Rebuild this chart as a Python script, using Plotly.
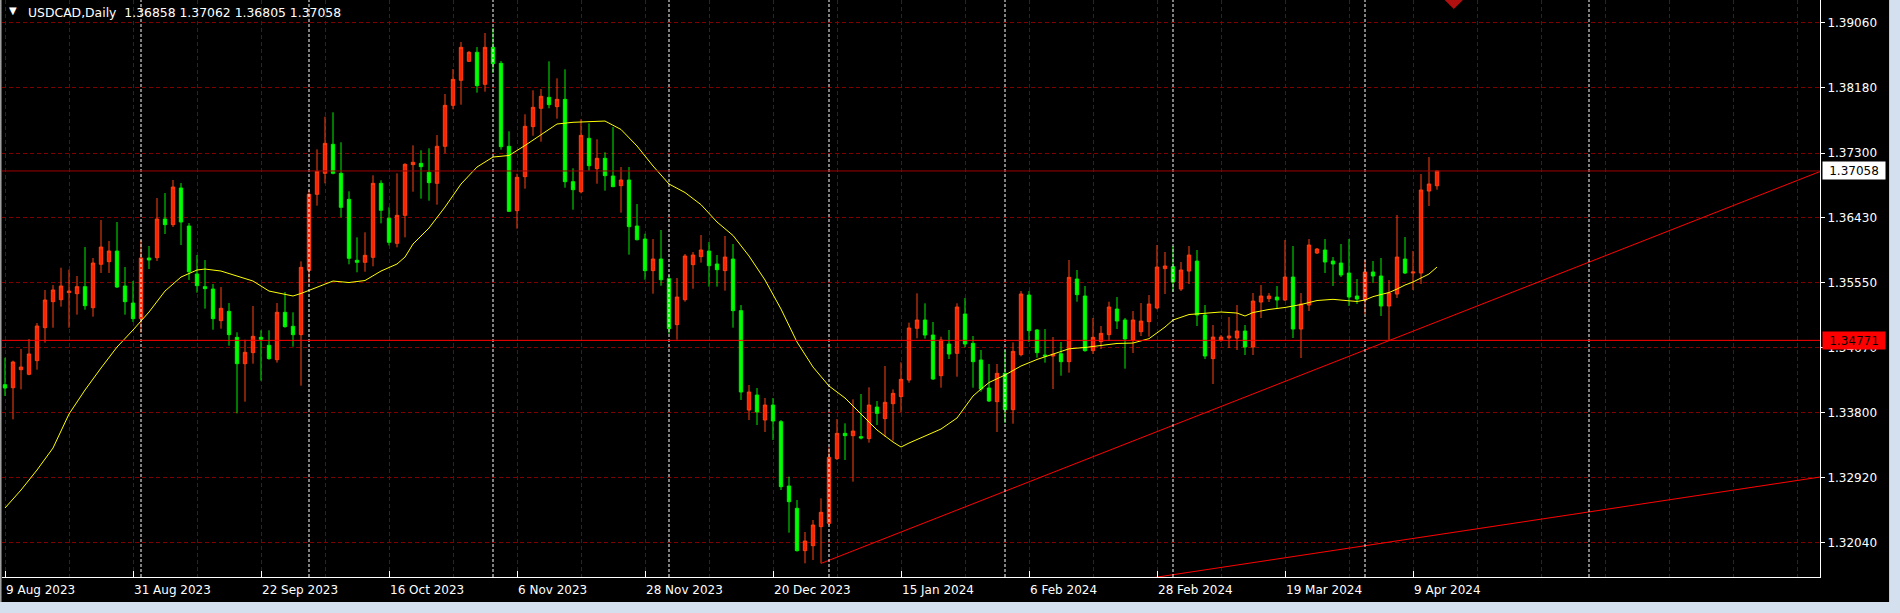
import plotly.graph_objects as go

# ---------------- data ----------------
open_ = [1.34173,1.34132,1.34375,1.34313,1.34497,1.34942,1.35293,1.35320,1.35415,1.35401,
 1.35496,1.35212,1.35798,1.35833,1.35977,1.35505,1.35275,1.35064,1.35883,1.35887,
 1.36409,1.36333,1.36828,1.36315,1.35667,1.35496,1.35464,1.35037,1.35163,1.34812,
 1.34456,1.34605,1.34812,1.34704,1.34510,1.35150,1.34961,1.34848,1.35717,1.36743,
 1.37026,1.37418,1.37026,1.36675,1.35852,1.35825,1.35892,1.36891,1.36419,1.36081,
 1.36459,1.37143,1.37161,1.37040,1.36891,1.37391,1.37944,1.38282,1.38538,1.38660,
 1.38228,1.38727,1.38511,1.37391,1.36522,1.36981,1.37656,1.37904,1.38052,1.37926,
 1.38025,1.36913,1.36778,1.37499,1.37089,1.37229,1.36990,1.36859,1.36936,1.36315,
 1.36139,1.35712,1.35869,1.35604,1.34983,1.35320,1.35793,1.35901,1.35977,1.35802,
 1.35712,1.35869,1.35172,1.33831,1.34033,1.33696,1.33898,1.33673,1.32805,1.32504,
 1.31932,1.31999,1.32256,1.32301,1.33174,1.33516,1.33484,1.33471,1.33444,1.33871,
 1.33714,1.33916,1.34011,1.34236,1.34934,1.35046,1.34843,1.34294,1.34722,1.34596,
 1.35127,1.34731,1.34506,1.34128,1.33943,1.34326,1.33835,1.34578,1.35383,1.34911,
 1.34573,1.34560,1.34591,1.34483,1.35599,1.35370,1.34632,1.34753,1.34848,1.35194,
 1.35046,1.34776,1.34888,1.35023,1.35208,1.35739,1.35766,1.35464,1.35707,1.35842,
 1.35113,1.34524,1.34776,1.34803,1.34803,1.34897,1.34681,1.35289,1.35334,1.35356,
 1.35316,1.35626,1.34924,1.35248,1.35950,1.35991,1.35842,1.35815,1.35680,1.35370,
 1.35316,1.35694,1.35640,1.35235,1.35397,1.35869,1.35680,1.35680,1.36787,1.36858]

high = [1.34537,1.34497,1.34654,1.34789,1.35005,1.35451,1.35518,1.35752,1.35725,1.35640,
 1.36031,1.35883,1.36396,1.36112,1.36369,1.35761,1.35572,1.36126,1.36045,1.36693,
 1.36760,1.36936,1.36895,1.36355,1.35923,1.35856,1.35532,1.35491,1.35275,1.34880,
 1.34780,1.35235,1.34907,1.34907,1.35275,1.35424,1.35150,1.35838,1.36797,1.37350,
 1.37791,1.37850,1.37445,1.36783,1.36162,1.36230,1.36999,1.36932,1.36567,1.37026,
 1.37161,1.37404,1.37337,1.37364,1.37543,1.38097,1.38434,1.38799,1.38677,1.38731,
 1.38920,1.38988,1.38542,1.37593,1.37021,1.37823,1.38147,1.38164,1.38538,1.38309,
 1.38430,1.37094,1.37755,1.37701,1.37485,1.37310,1.37651,1.37111,1.37111,1.36612,
 1.36211,1.36139,1.36261,1.35649,1.35613,1.35937,1.35964,1.36193,1.36099,1.35923,
 1.36180,1.36072,1.35248,1.34168,1.34128,1.33993,1.33993,1.33696,1.32931,1.32616,
 1.32184,1.32346,1.32639,1.33327,1.33709,1.33651,1.33975,1.34047,1.34137,1.33952,
 1.34425,1.34110,1.34475,1.35010,1.35406,1.35271,1.35019,1.34821,1.34911,1.35271,
 1.35343,1.34830,1.34641,1.34452,1.34452,1.34641,1.34745,1.35437,1.35437,1.34924,
 1.34924,1.34816,1.34749,1.35856,1.35721,1.35505,1.35073,1.34965,1.35293,1.35356,
 1.35073,1.35167,1.35275,1.35383,1.36058,1.35964,1.36045,1.35829,1.36045,1.35991,
 1.35248,1.34978,1.34843,1.35086,1.35248,1.34978,1.35410,1.35518,1.35410,1.35505,
 1.36126,1.36045,1.35410,1.36139,1.36018,1.36139,1.35896,1.36072,1.36139,1.35599,
 1.35856,1.35842,1.35883,1.35586,1.36463,1.36166,1.35977,1.37017,1.37246,1.37062]

low = [1.34020,1.33705,1.34110,1.34300,1.34375,1.34740,1.34942,1.35226,1.34942,1.35118,
 1.35185,1.35091,1.35680,1.35680,1.35478,1.35118,1.35019,1.34875,1.35734,1.35842,
 1.36207,1.36301,1.36058,1.35586,1.35415,1.35199,1.34915,1.34929,1.34699,1.33786,
 1.33943,1.34456,1.34227,1.34510,1.34470,1.34942,1.34686,1.34159,1.35541,1.36589,
 1.36891,1.37013,1.36432,1.35798,1.35690,1.35698,1.35771,1.36351,1.36054,1.36027,
 1.36162,1.36778,1.36684,1.36657,1.36603,1.37296,1.37890,1.37953,1.38530,1.38115,
 1.38128,1.38380,1.37345,1.36504,1.36279,1.36819,1.37534,1.37453,1.37904,1.37764,
 1.36832,1.36535,1.36756,1.37062,1.36886,1.36792,1.36840,1.36495,1.35928,1.36120,
 1.35590,1.35401,1.35509,1.34861,1.34780,1.35293,1.35469,1.35820,1.35496,1.35496,
 1.35442,1.34942,1.33966,1.33696,1.33628,1.33534,1.33426,1.32751,1.32175,1.31920,
 1.31761,1.31806,1.31761,1.32278,1.33156,1.33156,1.32863,1.33435,1.33390,1.33628,
 1.33471,1.33417,1.33804,1.34200,1.34799,1.34794,1.34236,1.34132,1.34519,1.34281,
 1.34677,1.34132,1.34078,1.33939,1.33534,1.33655,1.33646,1.34556,1.34749,1.34537,
 1.34470,1.34114,1.34294,1.34335,1.35293,1.34618,1.34587,1.34654,1.34762,1.34924,
 1.34389,1.34600,1.34830,1.34821,1.35190,1.35397,1.35424,1.35437,1.35532,1.34965,
 1.34519,1.34182,1.34753,1.34668,1.34641,1.34573,1.34573,1.35073,1.35289,1.35194,
 1.35302,1.34803,1.34533,1.35167,1.35937,1.35680,1.35505,1.35626,1.35235,1.35262,
 1.35127,1.35545,1.35100,1.34762,1.35343,1.35667,1.35451,1.35532,1.36585,1.36805]

close = [1.34128,1.34479,1.34411,1.34587,1.34965,1.35316,1.35451,1.35505,1.35437,1.35496,
 1.35239,1.35815,1.36031,1.35977,1.35491,1.35293,1.35064,1.35883,1.35856,1.36409,
 1.36333,1.36841,1.36369,1.35698,1.35509,1.35469,1.35064,1.35204,1.34848,1.34456,
 1.34610,1.34826,1.34785,1.34524,1.35150,1.34956,1.34848,1.35757,1.36743,1.37053,
 1.37431,1.37026,1.36567,1.35879,1.35825,1.35919,1.36891,1.36527,1.36095,1.36459,
 1.37148,1.37175,1.37116,1.36900,1.37391,1.37944,1.38295,1.38727,1.38660,1.38209,
 1.38727,1.38506,1.37386,1.36513,1.36972,1.37661,1.37917,1.38066,1.37953,1.38025,
 1.36913,1.36805,1.37539,1.37129,1.37229,1.36994,1.36846,1.36936,1.36306,1.36130,
 1.35712,1.35869,1.35590,1.34929,1.35356,1.35910,1.35923,1.35991,1.35779,1.35725,
 1.35896,1.35172,1.34074,1.34074,1.33804,1.33898,1.33682,1.32796,1.32593,1.31932,
 1.32062,1.32278,1.32450,1.33192,1.33516,1.33484,1.33547,1.33453,1.33898,1.33786,
 1.33935,1.34056,1.34245,1.34938,1.35046,1.34843,1.34249,1.34776,1.34587,1.35221,
 1.34722,1.34483,1.34114,1.33952,1.34326,1.33835,1.34623,1.35397,1.34902,1.34605,
 1.34560,1.34583,1.34483,1.35622,1.35388,1.34632,1.34812,1.34866,1.35221,1.35032,
 1.34789,1.35046,1.35032,1.35262,1.35761,1.35775,1.35559,1.35721,1.35923,1.35113,
 1.34560,1.34816,1.34816,1.34830,1.34897,1.34681,1.35302,1.35370,1.35370,1.35316,
 1.35626,1.34924,1.35262,1.36058,1.36004,1.35829,1.35802,1.35653,1.35356,1.35329,
 1.35694,1.35640,1.35235,1.35410,1.35896,1.35680,1.35694,1.36801,1.36882,1.37058]

# moving average (yellow) read at sample bars
ma_idx = [0,2,4,6,8,10,12,14,16,18,20,22,24,25,27,29,31,33,35,36,37,39,41,43,45,47,49,50,51,53,55,57,59,
          61,63,65,67,69,71,73,75,77,79,81,83,85,87,89,91,93,95,97,99,101,103,105,107,109,111,112,113,
          115,117,119,121,122,123,125,127,129,131,133,135,137,139,141,143,145,146,148,150,152,154,155,
          156,158,160,162,164,166,168,169,170,171,172,173,174,175,176,177,178,179]
ma_val = [1.32508,1.32751,1.33021,1.33318,1.33777,1.34101,1.34398,1.34681,1.34911,1.35154,1.35437,1.35626,
          1.35721,1.35734,1.35707,1.35640,1.35572,1.35437,1.35390,1.35370,1.35404,1.35491,1.35572,1.35552,
          1.35579,1.35707,1.35802,1.35896,1.36072,1.36288,1.36571,1.36882,1.37111,1.37246,1.37267,1.37402,
          1.37550,1.37692,1.37715,1.37728,1.37732,1.37618,1.37395,1.37125,1.36882,1.36767,1.36603,1.36369,
          1.36187,1.35910,1.35586,1.35194,1.34749,1.34411,1.34155,1.33993,1.33777,1.33561,1.33399,1.33331,
          1.33385,1.33480,1.33574,1.33723,1.34020,1.34114,1.34202,1.34303,1.34425,1.34513,1.34580,1.34657,
          1.34675,1.34702,1.34729,1.34735,1.34794,1.34951,1.35046,1.35120,1.35140,1.35154,1.35140,1.35100,
          1.35147,1.35188,1.35215,1.35255,1.35309,1.35325,1.35305,1.35296,1.35316,1.35361,1.35390,1.35417,
          1.35464,1.35518,1.35559,1.35613,1.35667,1.35761]

tick_idx = [0,16,32,48,64,80,96,112,128,144,160,176]
tick_labels = ['9 Aug 2023','31 Aug 2023','22 Sep 2023','16 Oct 2023','6 Nov 2023','28 Nov 2023',
               '20 Dec 2023','15 Jan 2024','6 Feb 2024','28 Feb 2024','19 Mar 2024','9 Apr 2024']
grid_idx = list(range(0, 227, 8))
month_sep_idx = [17, 38, 61, 83, 103, 125, 146, 170, 198]
price_ticks = [1.39060,1.38180,1.37300,1.36430,1.35550,1.34670,1.33800,1.32920,1.32040]

trend1 = ([102, 170], [1.31760, 1.34641])
trend2 = ([140, 220], [1.31510, 1.32814])
bid_price = 1.37058
level_price = 1.34771
arrow_mark = (181.1, 1.39366)
title_ohlc = [1.36858, 1.37062, 1.36805, 1.37058]

# ---------------- figure ----------------
X0, X1 = -0.375, 226.875
Y0, Y1 = 1.315765, 1.39366
FONT = 'DejaVu Sans'
GRID = '#800000'

def extend(tl, xend):
    (xa, xb), (ya, yb) = tl
    s = (yb - ya) / (xb - xa)
    return [xa, xend], [ya, ya + s * (xend - xa)]

fig = go.Figure()
fig.add_trace(go.Candlestick(
    x=list(range(len(open_))), open=open_, high=high, low=low, close=close,
    increasing=dict(line=dict(color='#FF4010', width=1), fillcolor='#FF2200'),
    decreasing=dict(line=dict(color='#00F000', width=1), fillcolor='#00FF00'),
    whiskerwidth=0, showlegend=False, hoverinfo='skip'))
fig.add_trace(go.Scatter(x=ma_idx, y=ma_val, mode='lines',
                         line=dict(color='#FFFF00', width=1), showlegend=False, hoverinfo='skip'))
for tl in (trend1, trend2):
    tx, ty = extend(tl, X1)
    fig.add_trace(go.Scatter(x=tx, y=ty, mode='lines', line=dict(color='#FF0000', width=1),
                             showlegend=False, hoverinfo='skip'))
fig.add_trace(go.Scatter(x=[arrow_mark[0]], y=[arrow_mark[1]], mode='markers',
                         marker=dict(symbol='diamond', size=14, color='#B01010'),
                         cliponaxis=True, showlegend=False, hoverinfo='skip'))

shapes = []
for s in month_sep_idx:
    shapes.append(dict(type='line', xref='x', yref='paper', x0=s, x1=s, y0=0, y1=1,
                       line=dict(color='white', width=1, dash='3px,2px'), layer='above'))
shapes.append(dict(type='line', xref='paper', yref='y', x0=0, x1=1, y0=bid_price, y1=bid_price,
                   line=dict(color='#A00000', width=1), layer='above'))
shapes.append(dict(type='line', xref='paper', yref='y', x0=0, x1=1, y0=level_price, y1=level_price,
                   line=dict(color='#FF0000', width=1), layer='above'))
# window frame strips (light blue) at right and bottom
shapes.append(dict(type='rect', xref='paper', yref='paper', x0=1.0380, x1=1.05, y0=-0.07, y1=1.01,
                   fillcolor='#D4E0EE', line=dict(width=0), layer='above'))
shapes.append(dict(type='rect', xref='paper', yref='paper', x0=-0.01, x1=1.05, y0=-0.07, y1=-0.0433,
                   fillcolor='#D4E0EE', line=dict(width=0), layer='above'))
shapes.append(dict(type='line', xref='paper', yref='paper', x0=-0.0008, x1=-0.0008, y0=-0.0433, y1=1.01,
                   line=dict(color='#A0A0A0', width=2), layer='above'))

annotations = [
    dict(xref='paper', yref='y', x=1, y=bid_price, xanchor='left', yanchor='middle', xshift=1.5,
         text=f'{bid_price:.5f}', showarrow=False, bgcolor='white', width=60, height=15, borderpad=1,
         font=dict(family=FONT, size=12, color='black')),
    dict(xref='paper', yref='y', x=1, y=level_price, xanchor='left', yanchor='middle', xshift=1.5,
         text=f'{level_price:.5f}', showarrow=False, bgcolor='#FF0000', width=60, height=15, borderpad=1,
         font=dict(family=FONT, size=12, color='black')),
    dict(xref='paper', yref='paper', x=0, y=1, xanchor='left', yanchor='top', xshift=24, yshift=-3,
         text='USDCAD,Daily\u00a0\u00a0' + ' '.join(f'{v:.5f}' for v in title_ohlc),
         showarrow=False, font=dict(family=FONT, size=12.4, color='white')),
    dict(xref='paper', yref='paper', x=0, y=1, xanchor='left', yanchor='top', xshift=5, yshift=-3,
         text='\u25BC', showarrow=False, font=dict(family=FONT, size=10, color='white')),
]

fig.update_layout(
    width=1900, height=613,
    margin=dict(l=2, r=80, t=0, b=36, pad=0),
    paper_bgcolor='black', plot_bgcolor='black',
    boxgap=0.4, showlegend=False,
    shapes=shapes, annotations=annotations,
    xaxis=dict(range=[X0, X1], tickmode='array', tickvals=tick_idx, ticktext=tick_labels,
               ticks='inside', ticklen=6, tickcolor='white', tickwidth=1,
               ticklabelposition='outside right', ticklabelstandoff=2,
               tickfont=dict(family=FONT, size=12, color='white'),
               showline=True, linecolor='white', linewidth=1, mirror=False,
               showgrid=True, gridcolor=GRID, griddash='4px,3px', gridwidth=1,
               minor=dict(tickmode='array', tickvals=grid_idx, showgrid=True, gridcolor=GRID,
                          griddash='4px,3px', gridwidth=1, ticks=''),
               zeroline=False, rangeslider=dict(visible=False), fixedrange=True),
    yaxis=dict(range=[Y0, Y1], side='right', tickmode='array', tickvals=price_ticks,
               ticktext=[f'{v:.5f}' for v in price_ticks],
               ticks='outside', ticklen=4, tickcolor='white', tickwidth=1,
               tickfont=dict(family=FONT, size=12, color='white'),
               showline=True, linecolor='white', linewidth=1,
               showgrid=True, gridcolor=GRID, griddash='4px,3px', gridwidth=1,
               zeroline=False, fixedrange=True),
)

fig.write_html('out.html', config={'displayModeBar': False},
               post_script="document.body.style.margin='0';document.body.style.padding='0';"
                           "document.body.style.overflow='hidden';")
